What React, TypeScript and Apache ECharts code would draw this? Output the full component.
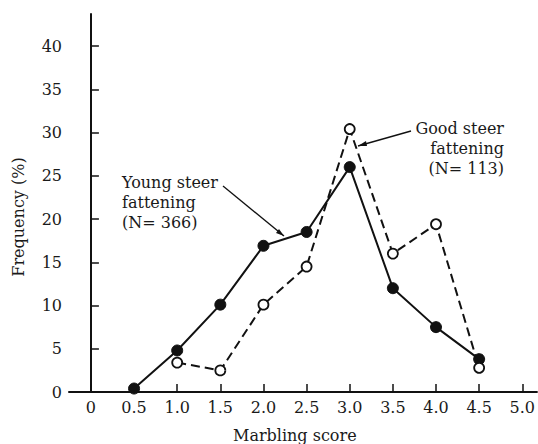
import React, { useEffect, useRef } from "react";
import * as echarts from "echarts";

const youngX = [0.5, 1.0, 1.5, 2.0, 2.5, 3.0, 3.5, 4.0, 4.5];
const youngY = [0.4, 4.8, 10.1, 16.9, 18.5, 26.0, 12.0, 7.5, 3.8];
const goodX = [1.0, 1.5, 2.0, 2.5, 3.0, 3.5, 4.0, 4.5];
const goodY = [3.4, 2.5, 10.1, 14.5, 30.4, 16.0, 19.4, 2.8];
const xTicks = [0, 0.5, 1.0, 1.5, 2.0, 2.5, 3.0, 3.5, 4.0, 4.5, 5.0];
const yTicks = [0, 5, 10, 15, 20, 25, 30, 35, 40];

const FONT = "DejaVu Serif";

export default function App() {
  const ref = useRef<HTMLDivElement>(null);
  useEffect(() => {
    if (!ref.current) return;
    const chart = echarts.init(ref.current, undefined, { renderer: "svg" });
    const txt = { fontFamily: FONT, fontSize: 16, color: "#1a1a1a" };
    chart.setOption({
      animation: false,
      backgroundColor: "#ffffff",
      grid: { left: 69, right: 0, top: 14, bottom: 52 },
      xAxis: {
        type: "value",
        min: -0.254,
        max: 5.17,
        axisLine: { show: true, lineStyle: { color: "#111", width: 2 } },
        axisTick: {
          show: true,
          inside: true,
          length: 8,
          customValues: xTicks,
          lineStyle: { color: "#111", width: 1.5 },
        },
        axisLabel: {
          customValues: xTicks,
          margin: 7,
          ...txt,
          formatter: (v: number) => (v === 0 ? "0" : v.toFixed(1)),
        },
        splitLine: { show: false },
      },
      yAxis: {
        type: "value",
        min: 0,
        max: 43.7,
        axisLine: { show: true, lineStyle: { color: "#111", width: 2 } },
        axisTick: {
          show: true,
          inside: true,
          length: 8,
          customValues: yTicks,
          lineStyle: { color: "#111", width: 1.5 },
        },
        axisLabel: { customValues: yTicks, margin: 7, ...txt },
        splitLine: { show: false },
      },
      series: [
        {
          type: "line",
          name: "Young steer fattening",
          data: youngX.map((x, i) => [x, youngY[i]]),
          symbol: "circle",
          symbolSize: 11,
          clip: false,
          lineStyle: { color: "#111", width: 2 },
          itemStyle: { color: "#111", borderColor: "#111", borderWidth: 1 },
          z: 3,
        },
        {
          type: "line",
          name: "Good steer fattening",
          data: goodX.map((x, i) => [x, goodY[i]]),
          symbol: "circle",
          symbolSize: 10,
          showAllSymbol: true,
          clip: false,
          lineStyle: { color: "#111", width: 2, type: [9, 5] },
          itemStyle: { color: "#ffffff", borderColor: "#111", borderWidth: 1.8 },
          z: 4,
        },
      ],
      graphic: [
        {
          type: "text",
          left: 303 - 70,
          top: 427,
          style: { text: "Marbling score", ...txt, fill: "#1a1a1a", font: `16px "${FONT}"` },
        },
        {
          type: "text",
          x: 18,
          y: 217,
          rotation: Math.PI / 2,
          style: {
            text: "Frequency (%)",
            fill: "#1a1a1a",
            font: `16px "${FONT}"`,
            align: "center",
            verticalAlign: "middle",
          },
        },
        {
          type: "text",
          x: 122,
          y: 172,
          style: {
            text: "Young steer\nfattening\n(N= 366)",
            fill: "#1a1a1a",
            font: `16px "${FONT}"`,
            lineHeight: 20,
            align: "left",
            verticalAlign: "top",
          },
        },
        {
          type: "text",
          x: 504,
          y: 118,
          style: {
            text: "Good steer\nfattening\n(N= 113)",
            fill: "#1a1a1a",
            font: `16px "${FONT}"`,
            lineHeight: 20,
            align: "right",
            verticalAlign: "top",
          },
        },
        {
          type: "line",
          shape: { x1: 223, y1: 186, x2: 284, y2: 236 },
          style: { stroke: "#111", lineWidth: 1.3 },
        },
        {
          type: "polygon",
          shape: { points: [[284, 236], [276, 233], [279, 229]] },
          style: { fill: "#111" },
        },
        {
          type: "line",
          shape: { x1: 411, y1: 131, x2: 358, y2: 146 },
          style: { stroke: "#111", lineWidth: 1.3 },
        },
        {
          type: "polygon",
          shape: { points: [[358, 146], [366, 141], [367, 146]] },
          style: { fill: "#111" },
        },
      ],
    });
    return () => chart.dispose();
  }, []);
  return (
    <div
      ref={ref}
      style={{ position: "fixed", left: 0, top: 0, width: 538, height: 444 }}
    />
  );
}
